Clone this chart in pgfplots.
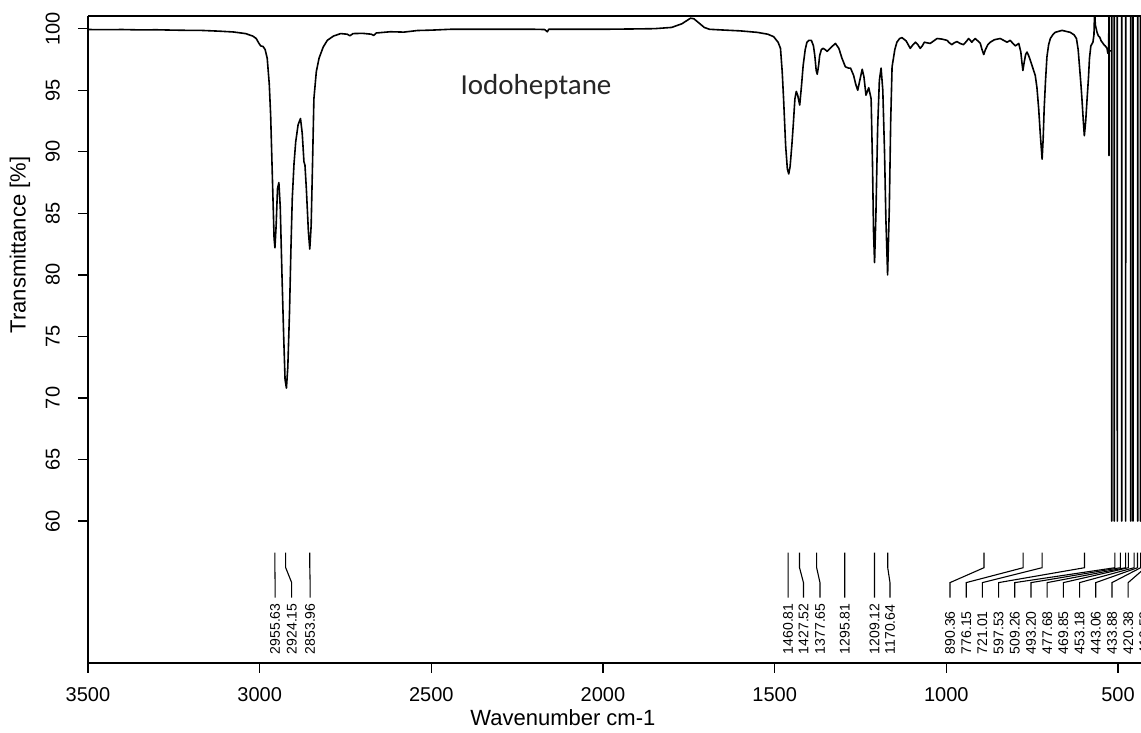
\documentclass[border=0pt]{standalone}
\usepackage{pgfplots}
\pgfplotsset{compat=1.18}
\usepackage{fontspec}
\setmainfont{Liberation Sans}
\newfontfamily\titlefont{Carlito}

\pgfplotstableread{
w T
3500 99.93
3450 99.92
3400 99.93
3350 99.90
3300 99.91
3250 99.88
3200 99.86
3172 99.86
3120 99.80
3076 99.73
3041 99.60
3020 99.40
3010 99.20
3003 98.85
2997 98.60
2990 98.55
2984 98.30
2978 97.60
2972 95.5
2968 93.0
2962 87.0
2958 83.0
2955.5 82.2
2952 84.0
2948 87.0
2944 87.5
2940 85.5
2935 80.0
2930 75.0
2926 71.5
2922 70.8
2918 72.5
2913 77.0
2909 82.0
2905 86.2
2900 89.0
2895 90.8
2888 92.2
2881 92.7
2876 91.5
2871 89.2
2868 88.9
2864 87.0
2858 83.5
2854 82.1
2850 84.0
2846 89.0
2842 94.3
2835 96.5
2827 97.6
2815 98.5
2803 99.05
2785 99.4
2764 99.6
2745 99.55
2737 99.42
2728 99.6
2700 99.62
2675 99.55
2668 99.45
2660 99.65
2619 99.75
2580 99.72
2540 99.85
2500 99.88
2444 99.95
2400 99.95
2300 99.95
2200 99.95
2170 99.93
2162 99.75
2158 99.95
2100 99.95
2000 99.95
1900 99.98
1850 100.0
1800 100.1
1770 100.4
1745 100.85
1735 100.8
1720 100.45
1705 100.1
1690 99.95
1658 99.9
1600 99.82
1551 99.7
1520 99.55
1503 99.35
1490 98.9
1483 98.4
1478 96.5
1474 94.3
1468 90.5
1463 88.6
1459 88.2
1455 88.8
1450 90.5
1446 92.1
1441 94.3
1437 94.9
1433 94.6
1427 93.8
1422 95.3
1417 97.0
1411 98.3
1406 98.9
1400 99.05
1393 99.05
1387 98.6
1383 97.8
1379 96.6
1376 96.3
1372 97.0
1369 97.8
1364 98.3
1359 98.4
1353 98.3
1347 98.15
1335 98.5
1323 98.8
1313 98.4
1304 97.6
1294 96.9
1285 96.8
1279 96.8
1270 96.2
1264 95.5
1258 95.0
1252 95.8
1245 96.7
1240 96.1
1234 94.6
1226 95.2
1219 94.3
1215 89.0
1212 83.5
1209 81.0
1205 85.0
1200 92.0
1195 95.8
1190 96.8
1185 95.0
1180 90.0
1176 84.5
1171 80.0
1166 85.5
1162 92.5
1158 96.9
1150 98.3
1144 98.9
1136 99.2
1129 99.27
1117 99.0
1105 98.4
1097 98.7
1090 98.9
1083 98.7
1076 98.4
1070 98.6
1064 98.9
1056 98.85
1047 98.8
1037 99.0
1027 99.2
1012 99.15
998 99.05
991 98.85
984 98.7
977 98.85
969 98.95
960 98.8
950 98.7
942 98.95
935 99.2
930 99.05
926 98.9
921 99.05
916 99.2
908 99.0
901 98.8
896 98.3
891 97.9
886 98.3
879 98.7
872 98.9
860 99.1
843 99.2
833 99.05
823 98.9
814 99.05
806 98.8
799 98.6
789 98.8
783 98.1
780 97.3
777 96.6
773 97.3
769 97.9
765 98.1
760 97.8
755 97.4
748 96.8
741 96.2
736 95.2
731 93.5
726 91.3
721 89.4
718 91.0
715 93.5
711 95.8
707 97.7
702 98.7
697 99.2
690 99.5
683 99.7
663 99.86
639 99.7
628 99.5
621 99.2
616 98.3
612 96.9
608 95.5
605 94.3
601 92.5
598 91.3
594 92.5
590 94.3
586 96.0
583 97.6
579 98.6
573 98.9
570 99.5
568 101.5
566 100.3
561 99.7
557 99.4
553 99.3
549 99.0
546 98.9
541 98.7
537 98.6
532 98.4
529.5 98.0
527.0 98.0
526.3 103
526.2 89.7
526.1 98.2
518.4 98.2
518.3 60
518.2 103
510.9 103
510.8 60
510.7 103
502.1 103
502.0 60
501.9 103
489.3 103
489.2 60
489.1 103
477.7 103
477.6 60
477.5 103
463.0 103
462.9 60
462.8 103
456.4 103
456.3 60
456.2 103
442.7 103
442.6 60
442.5 103
434.5 103
434.4 60
434.3 103
433 103
}\spectrum

\newcommand{\pk}[3]{%
  \draw[line width=0.55pt] (axis cs:#1,57.43) -- (axis cs:#1,56.21) -- (axis cs:#2,55.0) -- (axis cs:#2,53.79);
  \node[rotate=90, anchor=west, inner sep=0pt, font=\fontsize{7}{8}\selectfont] at (axis cs:#2,49.16) {#3};
}

\begin{document}
\begin{tikzpicture}
\useasboundingbox (-44pt,-35pt) rectangle (526.5pt,331.5pt);
\begin{scope}
\clip (-44pt,-35pt) rectangle (526.5pt,331.5pt);
\begin{axis}[
  at={(0pt,0pt)}, anchor=south west,
  scale only axis,
  width=526.5pt, height=323.5pt,
  x dir=reverse,
  xmin=433, xmax=3500,
  ymin=48.47, ymax=101.03,
  axis x line*=box,
  axis y line*=left,
  xtick={500,1000,...,3500},
  ytick={60,65,...,100},
  xtick pos=bottom,
  tick align=outside,
  major tick length=5pt,
  tick style={black, line width=0.7pt},
  axis line style={black, line width=0.7pt},
  /pgf/number format/1000 sep={},
  /pgf/number format/assume math mode=true,
  ticklabel style={font=\fontsize{10}{12}\selectfont},
  xticklabel style={yshift=-3.9pt},
  yticklabel style={xshift=-5.5pt, rotate=90, anchor=south},
  xlabel={Wavenumber cm-1},
  ylabel={Transmittance [\%]},
  label style={font=\fontsize{11}{13}\selectfont},
  xlabel style={at={(axis description cs:0.451,-0.085)}, anchor=center},
  ylabel style={at={(axis description cs:-0.0646,0.646)}, anchor=center},
  clip=true,
]
\addplot[black, line width=0.8pt, line join=round, mark=none] table[x=w, y=T] {\spectrum};
\node[font=\titlefont\fontsize{14.5}{17}\selectfont, text=black!85] at (axis cs:2195,95.3) {Iodoheptane};
\pk{2955.63}{2955}{2955.63}
\pk{2924.15}{2906.7}{2924.15}
\pk{2853.96}{2853}{2853.96}
\pk{1460.81}{1460.8}{1460.81}
\pk{1427.52}{1416.1}{1427.52}
\pk{1377.65}{1368.0}{1377.65}
\pk{1295.81}{1295.8}{1295.81}
\pk{1209.12}{1209.1}{1209.12}
\pk{1170.64}{1164.1}{1170.64}
\pk{890.36}{989.3}{890.36}
\pk{776.15}{942.1}{776.15}
\pk{721.01}{895.0}{721.01}
\pk{597.53}{847.8}{597.53}
\pk{509.26}{800.6}{509.26}
\pk{493.20}{753.4}{493.20}
\pk{477.68}{706.2}{477.68}
\pk{469.85}{659.1}{469.85}
\pk{453.18}{611.9}{453.18}
\pk{443.06}{564.7}{443.06}
\pk{433.88}{517.5}{433.88}
\pk{420.38}{470.3}{420.38}
\pk{410.52}{423.2}{410.52}
\end{axis}
\end{scope}
\end{tikzpicture}
\end{document}
